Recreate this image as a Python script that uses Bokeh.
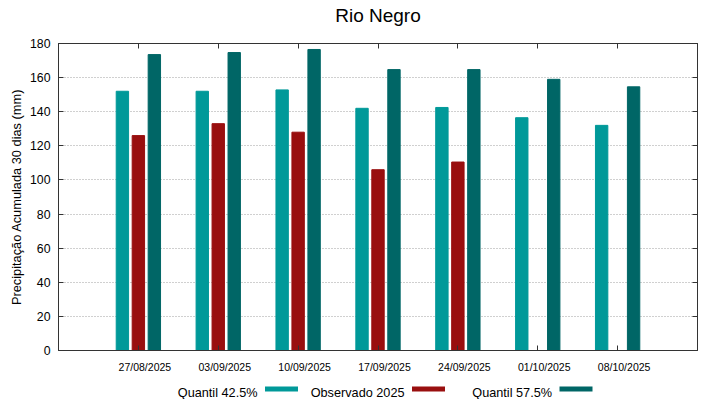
from bokeh.plotting import figure
from bokeh.layouts import column
from bokeh.models import (ColumnDataSource, FixedTicker, LinearAxis, Range1d,
                          Label, BoxAnnotation)
from bokeh.embed import file_html
from bokeh.resources import INLINE

title = "Rio Negro"
dates = ["27/08/2025", "03/09/2025", "10/09/2025", "17/09/2025",
         "24/09/2025", "01/10/2025", "08/10/2025"]
q425 = [152, 152, 152.8, 142, 142.5, 136.5, 132]
obs2025 = [126, 133, 128, 106, 110.5, None, None]
q575 = [173.5, 174.7, 176.5, 164.7, 164.7, 159, 154.6]
series_names = ["Quantil 42.5%", "Observado 2025", "Quantil 57.5%"]
colors = ["#009999", "#990f0f", "#006666"]
y_label = "Precipitação Acumulada 30 dias (mm)"

FONT = "Liberation Sans"
pos = list(range(1, len(dates) + 1))
n = len(dates) + 1

W = 719
H_TITLE, H_MAIN, H_LEG = 30, 345, 24
BL, BR, BT, BB = 58, 22, 13, 25


def blank_fig(h):
    f = figure(width=W, height=h, output_backend="svg", toolbar_location=None,
               x_range=Range1d(0, W), y_range=Range1d(0, h),
               x_axis_location=None, y_axis_location=None,
               min_border_left=0, min_border_right=0, min_border_top=0,
               min_border_bottom=0)
    f.grid.grid_line_color = None
    f.outline_line_color = None
    return f


# ---- title strip
pt = blank_fig(H_TITLE)
pt.add_layout(Label(x=BL + (W - BL - BR) / 2, y=15, x_units="canvas", y_units="canvas",
                    text=title, text_font=FONT, text_font_size="19px",
                    text_align="center", text_baseline="middle",
                    text_color="#000000"))

# ---- main chart
p = figure(width=W, height=H_MAIN, output_backend="svg", toolbar_location=None,
           x_range=Range1d(0, n), y_range=Range1d(0, 180),
           min_border_left=BL, min_border_right=BR, min_border_top=BT,
           min_border_bottom=BB)
# gnuplot draws the date labels ~6.5px right of their ticks
label_shift = 6.5 / ((W - BL - BR) / n)
p.extra_x_ranges = {"labels": Range1d(-label_shift, n - label_shift)}

offsets = [-0.2, 0.0, 0.2]
for vals, off, col in zip([q425, obs2025, q575], offsets, colors):
    xs = [x + off for x, v in zip(pos, vals) if v is not None]
    ys = [v for v in vals if v is not None]
    src = ColumnDataSource(dict(x=xs, top=ys))
    p.vbar(x="x", top="top", bottom=0, width=0.155, source=src,
           fill_color=col, line_color=col)

axis_col = "#333333"
xa = p.xaxis[0]
xa.ticker = FixedTicker(ticks=pos)
xa.major_label_text_font_size = "1px"
xa.major_label_text_alpha = 0.0
xa.major_label_standoff = 0
xa.major_tick_in = 5
xa.major_tick_out = 0
xa.minor_tick_line_color = None
xa.axis_line_color = axis_col
xa.major_tick_line_color = axis_col

xlab = LinearAxis(x_range_name="labels", ticker=FixedTicker(ticks=pos),
                  major_label_overrides={i: d for i, d in zip(pos, dates)},
                  axis_line_color=None, major_tick_line_color=None,
                  minor_tick_line_color=None, major_tick_in=0, major_tick_out=0,
                  major_label_standoff=10, major_label_text_font=FONT,
                  major_label_text_font_size="10.5px",
                  major_label_text_color="#000000")
p.add_layout(xlab, "below")

ya = p.yaxis[0]
ya.ticker = FixedTicker(ticks=list(range(0, 181, 20)))
ya.axis_label = y_label
ya.axis_label_text_font = FONT
ya.axis_label_text_font_size = "12.8px"
ya.axis_label_text_font_style = "normal"
ya.axis_label_text_color = "#000000"
ya.axis_label_standoff = 3
ya.major_label_text_font = FONT
ya.major_label_text_font_size = "12.3px"
ya.major_label_text_color = "#000000"
ya.major_tick_in = 5
ya.major_tick_out = 0
ya.minor_tick_line_color = None
ya.major_label_standoff = 8
ya.axis_line_color = axis_col
ya.major_tick_line_color = axis_col

top = LinearAxis(ticker=FixedTicker(ticks=pos), major_label_text_font_size="1px",
                 major_label_text_alpha=0.0,
                 major_tick_in=5, major_tick_out=0, minor_tick_line_color=None,
                 axis_line_color=axis_col, major_tick_line_color=axis_col,
                 major_label_standoff=0)
p.add_layout(top, "above")
right = LinearAxis(ticker=FixedTicker(ticks=list(range(0, 181, 20))),
                   major_label_text_font_size="1px", major_label_text_alpha=0.0,
                   major_tick_in=5, major_tick_out=0, minor_tick_line_color=None,
                   axis_line_color=axis_col, major_tick_line_color=axis_col,
                   major_label_standoff=0)
p.add_layout(right, "right")

p.xgrid.grid_line_color = None
p.ygrid.grid_line_color = "#a0a0a0"
p.ygrid.grid_line_dash = "1 2"
p.ygrid.grid_line_width = 1
p.ygrid.ticker = FixedTicker(ticks=list(range(20, 161, 20)))
p.outline_line_color = axis_col

# ---- legend strip (text then sample, gnuplot style)
pl = blank_fig(H_LEG)
leg_text_right = [257, 404, 551.5]
leg_base = 17
for name, col, tr in zip(series_names, colors, leg_text_right):
    pl.add_layout(Label(x=tr, y=leg_base, x_units="canvas", y_units="canvas",
                        text=name, text_font=FONT, text_font_size="12.7px",
                        text_align="right", text_baseline="alphabetic",
                        text_color="#000000"))
    pl.add_layout(BoxAnnotation(left=tr + 7.5, right=tr + 40.5,
                                top=leg_base - 6, bottom=leg_base - 1,
                                left_units="canvas", right_units="canvas",
                                top_units="canvas", bottom_units="canvas",
                                fill_color=col, fill_alpha=1.0, line_color=None))

layout = column(pt, p, pl, spacing=0)
open("out.html", "w").write(file_html(layout, INLINE))
